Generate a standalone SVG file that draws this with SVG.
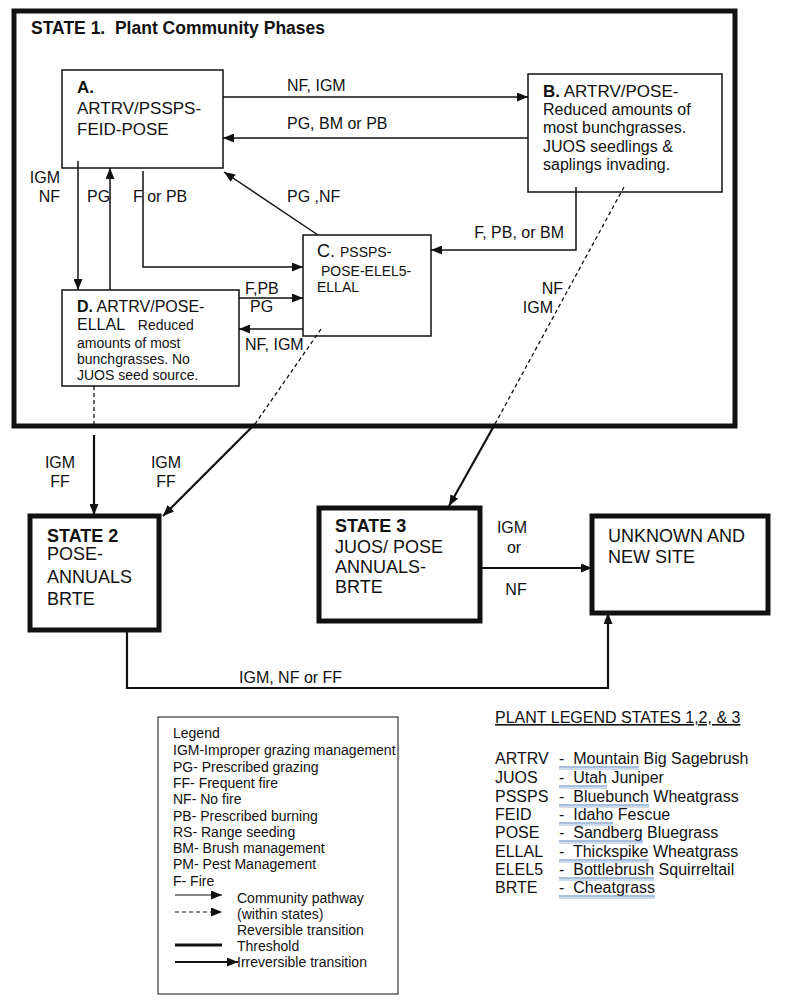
<svg xmlns="http://www.w3.org/2000/svg" width="800" height="1006" viewBox="0 0 800 1006">
<style>
text{font-family:"Liberation Sans",Arial,sans-serif;fill:#111;white-space:pre}
.box{fill:#fff;stroke:#111;stroke-width:1.5}
.sbox{fill:#fff;stroke:#111;stroke-width:5}
.t17{font-size:17px}
.t16{font-size:16px}
.t15{font-size:15px}
.t14{font-size:14px}
.t18{font-size:18px}
.b{font-weight:bold}
.c{fill:none;stroke:#111;stroke-width:1.5}
.cd{fill:none;stroke:#111;stroke-width:1.3;stroke-dasharray:4,3}
.ct{fill:none;stroke:#111;stroke-width:2.2}
.ul{stroke:#4f81bd;stroke-width:1}
.ul2{stroke:#9bb7dd;stroke-width:1}
</style>
<defs>
<marker id="ah" markerUnits="userSpaceOnUse" markerWidth="11" markerHeight="9" refX="11" refY="4.5" orient="auto">
<path d="M0,0 L11,4.5 L0,9 z" fill="#111"/>
</marker>
</defs>
<rect width="800" height="1006" fill="#fff"/>

<g id="state1">
<rect x="14" y="11" width="721" height="415" fill="none" stroke="#111" stroke-width="5"/>
<text x="31" y="34" style="font-size:17.5px" class="b">STATE 1.  Plant Community Phases</text>
</g>

<g id="phaseA">
<rect class="box" x="62" y="70" width="161" height="98"/>
<text x="77" y="93" class="t17 b">A.</text>
<text x="77" y="114" class="t17">ARTRV/PSSPS-</text>
<text x="77" y="135" class="t17">FEID-POSE</text>
</g>

<g id="phaseB">
<rect class="box" x="528" y="74" width="194" height="118"/>
<text x="543" y="97" class="t17"><tspan class="b">B.</tspan> ARTRV/POSE-</text>
<text x="543" y="115" class="t16">Reduced amounts of</text>
<text x="543" y="133" class="t16">most bunchgrasses.</text>
<text x="543" y="152" class="t16">JUOS seedlings &amp;</text>
<text x="543" y="170" class="t16">saplings invading.</text>
</g>

<g id="phaseC">
<rect class="box" x="303" y="235" width="128" height="101"/>
<text x="317" y="257" class="t18">C. <tspan class="t14">PSSPS-</tspan></text>
<text x="321" y="276" class="t14">POSE-ELEL5-</text>
<text x="317" y="292" class="t14">ELLAL</text>
</g>

<g id="phaseD">
<rect class="box" x="62" y="290" width="177" height="96"/>
<text x="77" y="312" class="t16"><tspan class="b">D.</tspan> ARTRV/POSE-</text>
<text x="77" y="330" class="t16">ELLAL   <tspan class="t14">Reduced</tspan></text>
<text x="77" y="348" class="t14">amounts of most</text>
<text x="77" y="364" class="t14">bunchgrasses. No</text>
<text x="77" y="380" class="t14">JUOS seed source.</text>
</g>

<g id="state2">
<rect class="sbox" x="30" y="516" width="129" height="114"/>
<text x="47" y="542" class="t18 b">STATE 2</text>
<text x="47" y="560" class="t18">POSE-</text>
<text x="47" y="583" class="t18">ANNUALS</text>
<text x="47" y="605" class="t18">BRTE</text>
</g>

<g id="state3">
<rect class="sbox" x="319" y="508" width="161" height="113"/>
<text x="335" y="532" class="t18 b">STATE 3</text>
<text x="335" y="553" class="t18">JUOS/ POSE</text>
<text x="335" y="573" class="t18">ANNUALS-</text>
<text x="335" y="593" class="t18">BRTE</text>
</g>

<g id="unknown">
<rect class="sbox" x="592" y="516" width="176" height="97"/>
<text x="608" y="542" class="t18">UNKNOWN AND</text>
<text x="608" y="563" class="t18">NEW SITE</text>
</g>

<g id="connectors">
<path class="c" d="M223,97 H528" marker-end="url(#ah)"/>
<path class="c" d="M528,138 H223" marker-end="url(#ah)"/>
<path class="c" d="M78,161 V290" marker-end="url(#ah)"/>
<path class="c" d="M110,290 V168" marker-end="url(#ah)"/>
<path class="c" d="M143,171 V267 H303" marker-end="url(#ah)"/>
<path class="c" d="M318,235 L224,172" marker-end="url(#ah)"/>
<path class="c" d="M576,187 V250 H431" marker-end="url(#ah)"/>
<path class="c" d="M239,298 H303" marker-end="url(#ah)"/>
<path class="c" d="M303,329 H239" marker-end="url(#ah)"/>
<path class="cd" d="M94,386 V427"/>
<path class="ct" d="M94,435 V515" marker-end="url(#ah)"/>
<path class="cd" d="M321,329 L255,424"/>
<path class="ct" d="M255,424 L163,516" marker-end="url(#ah)"/>
<path class="cd" d="M624,187 L495,424"/>
<path class="ct" d="M495,424 L449,506" marker-end="url(#ah)"/>
<path class="ct" d="M480,568 H592" marker-end="url(#ah)"/>
<path class="ct" d="M127,630 V688 H608 V613" marker-end="url(#ah)"/>
<text x="287" y="91" class="t16">NF, IGM</text>
<text x="287" y="129" class="t16">PG, BM or PB</text>
<text x="60" y="183" class="t16" text-anchor="end">IGM</text>
<text x="60" y="202" class="t16" text-anchor="end">NF</text>
<text x="87" y="202" class="t16">PG</text>
<text x="133" y="202" class="t16">F or PB</text>
<text x="287" y="202" class="t16">PG ,NF</text>
<text x="564" y="238" class="t16" text-anchor="end">F, PB, or BM</text>
<text x="245" y="294" class="t16">F,PB</text>
<text x="250" y="312" class="t16">PG</text>
<text x="245" y="350" class="t16">NF, IGM</text>
<text x="563" y="294" class="t16" text-anchor="end">NF</text>
<text x="553" y="313" class="t16" text-anchor="end">IGM</text>
<text x="60" y="468" class="t16" text-anchor="middle">IGM</text>
<text x="60" y="487" class="t16" text-anchor="middle">FF</text>
<text x="166" y="468" class="t16" text-anchor="middle">IGM</text>
<text x="166" y="487" class="t16" text-anchor="middle">FF</text>
<text x="512" y="533" class="t16" text-anchor="middle">IGM</text>
<text x="514" y="553" class="t16" text-anchor="middle">or</text>
<text x="516" y="595" class="t16" text-anchor="middle">NF</text>
<text x="239" y="683" class="t16">IGM, NF or FF</text>
</g>

<g id="legend">
<rect x="158" y="717" width="240" height="277" fill="#fff" stroke="#111" stroke-width="1"/>
<text x="173" y="738" class="t14">Legend</text>
<text x="173" y="755" class="t14">IGM-Improper grazing management</text>
<text x="173" y="772" class="t14">PG- Prescribed grazing</text>
<text x="173" y="788" class="t14">FF- Frequent fire</text>
<text x="173" y="804" class="t14">NF- No fire</text>
<text x="173" y="821" class="t14">PB- Prescribed burning</text>
<text x="173" y="837" class="t14">RS- Range seeding</text>
<text x="173" y="853" class="t14">BM- Brush management</text>
<text x="173" y="869" class="t14">PM- Pest Management</text>
<text x="173" y="886" class="t14">F- Fire</text>
<path d="M175,895 H222" stroke="#111" stroke-width="1.2" marker-end="url(#ah)"/>
<path d="M175,912 H222" stroke="#111" stroke-width="1.2" stroke-dasharray="4,3" marker-end="url(#ah)"/>
<path d="M175,945 H222" stroke="#111" stroke-width="3"/>
<path d="M175,962 H238" stroke="#111" stroke-width="2.2" marker-end="url(#ah)"/>
<text x="237" y="903" class="t14">Community pathway</text>
<text x="237" y="919" class="t14">(within states)</text>
<text x="237" y="935" class="t14">Reversible transition</text>
<text x="237" y="951" class="t14">Threshold</text>
<text x="237" y="967" class="t14">Irreversible transition</text>
</g>

<g id="plant-legend">
<text x="495" y="723" class="t16" text-decoration="underline">PLANT LEGEND STATES 1,2, &amp; 3</text>
<text x="495" y="764" class="t16">ARTRV</text>
<text x="495" y="783" class="t16">JUOS</text>
<text x="495" y="802" class="t16">PSSPS</text>
<text x="495" y="820" class="t16">FEID</text>
<text x="495" y="838" class="t16">POSE</text>
<text x="495" y="857" class="t16">ELLAL</text>
<text x="495" y="875" class="t16">ELEL5</text>
<text x="495" y="893" class="t16">BRTE</text>
<text x="559" y="764" class="t16">-  Mountain Big Sagebrush</text>
<text x="559" y="783" class="t16">-  Utah Juniper</text>
<text x="559" y="802" class="t16">-  Bluebunch Wheatgrass</text>
<text x="559" y="820" class="t16">-  Idaho Fescue</text>
<text x="559" y="838" class="t16">-  Sandberg Bluegrass</text>
<text x="559" y="857" class="t16">-  Thickspike Wheatgrass</text>
<text x="559" y="875" class="t16">-  Bottlebrush Squirreltail</text>
<text x="559" y="893" class="t16">-  Cheatgrass</text>
<path class="ul" d="M559,767H639M559,786H607M559,805H649M559,823H613M559,841H643M559,860H649M559,878H654M559,896H655"/>
<path class="ul2" d="M559,769H639M559,788H607M559,807H649M559,825H613M559,843H643M559,862H649M559,880H654M559,898H655"/>
</g>
</svg>
